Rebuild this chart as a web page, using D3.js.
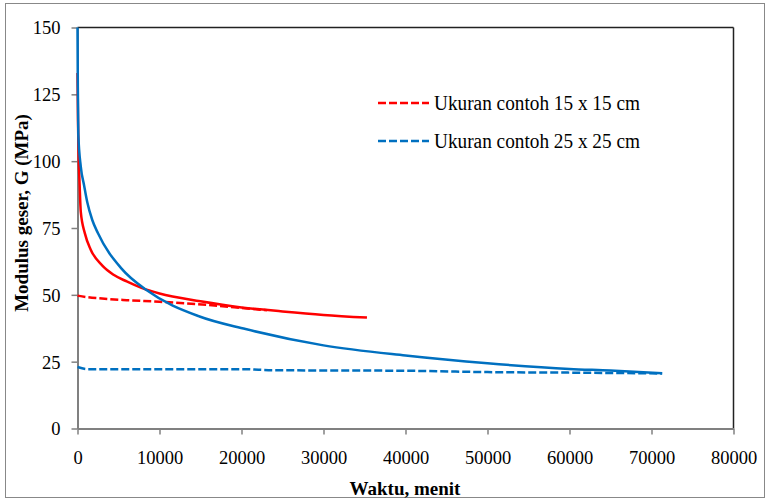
<!DOCTYPE html>
<html><head><meta charset="utf-8">
<script src="https://cdn.jsdelivr.net/npm/d3@7"></script>
<style>body{margin:0;background:#fff}svg{display:block}svg text{font-family:"Liberation Serif","Times New Roman",Times,"Nimbus Roman","DejaVu Serif",serif}</style>
</head><body><svg id="c" width="767" height="499"></svg>
<script>
const xTicks = [0,10000,20000,30000,40000,50000,60000,70000,80000];
const yTicks = [0,25,50,75,100,125,150];
const red15Solid = [[0,133],[60,115],[150,100],[240,92.8],[400,81],[900,73],[1600,67],[3000,61],[4400,57.5],[6000,55],[7800,52.6],[10000,50.5],[15000,47.6],[20000,45.3],[25000,43.8],[30000,42.5],[35300,41.5]];
const red15Dash = [[0,49.7],[1000,49.2],[3000,48.6],[6000,48.0],[10000,47.4],[16000,46.2],[20000,45.1],[23100,44.2]];
const blue25Solid = [[0,150],[40,128],[100,110],[400,98],[800,91],[1200,84.5],[1800,78],[2500,73],[5400,59.7],[8500,51.6],[14800,42],[20500,37.2],[30000,31.1],[40000,27.3],[50000,24.4],[60000,22.3],[65000,21.7],[71300,20.7]];
const blue25Dash = [[0,23],[1300,22.2],[10000,22.2],[20000,22.2],[24000,21.8],[40000,21.6],[50000,21.1],[60000,20.9],[71300,20.6]];
const legendLabels = ["Ukuran contoh 15 x 15 cm","Ukuran contoh 25 x 25 cm"];
const colors = ["#FF0000","#0070C0"];
const FONT = '"Liberation Serif","Times New Roman",Times,"Nimbus Roman","DejaVu Serif",serif';

const svg = d3.select("#c");
const L=77.5, R=733.5, T=27.5, B=428.5;
const x = d3.scaleLinear().domain([0,80000]).range([L,R]);
const y = d3.scaleLinear().domain([0,150]).range([B,T]);

svg.append("rect").attr("x",5.5).attr("y",3.5).attr("width",759).attr("height",494).attr("fill","#fff").attr("stroke","#888").attr("stroke-width",1);

svg.append("line").attr("x1",L).attr("x2",R).attr("y1",T).attr("y2",T).attr("stroke","#222").attr("stroke-width",1.5);
svg.append("line").attr("x1",R).attr("x2",R).attr("y1",T).attr("y2",B).attr("stroke","#222").attr("stroke-width",1.5);

const xAxis = svg.append("g").attr("transform",`translate(0,${B})`)
  .call(d3.axisBottom(x).tickValues(xTicks).tickSize(6).tickSizeOuter(0).tickFormat(d3.format("d")));
const yAxis = svg.append("g").attr("transform",`translate(${L},0)`)
  .call(d3.axisLeft(y).tickValues(yTicks).tickSize(6).tickSizeOuter(0));
[xAxis,yAxis].forEach(a=>{
  a.attr("font-family",FONT).attr("font-size",18.5);
  a.selectAll("path").attr("stroke","#808080").attr("stroke-width",2);
  a.selectAll("line").attr("stroke","#808080").attr("stroke-width",1.5);
  a.selectAll("text").attr("fill","#000");
});
xAxis.selectAll("text").attr("y",35).attr("dy",0);
yAxis.selectAll("text").attr("x",-17).attr("dy","0.35em");

const line = d3.line().x(d=>x(d[0])).y(d=>y(d[1])).curve(d3.curveMonotoneX);
const series = [
  {d:red15Solid,c:colors[0],dash:null},
  {d:red15Dash,c:colors[0],dash:"8,3"},
  {d:blue25Solid,c:colors[1],dash:null},
  {d:blue25Dash,c:colors[1],dash:"8,3"}
];
svg.append("g").selectAll("path").data(series).join("path")
  .attr("d",s=>line(s.d)).attr("fill","none").attr("stroke",s=>s.c)
  .attr("stroke-width",2.5).attr("stroke-dasharray",s=>s.dash);

const lg = svg.append("g").attr("font-family",FONT).attr("font-size",20);
legendLabels.forEach((t,i)=>{
  const yy = 103 + i*38;
  lg.append("line").attr("x1",378).attr("x2",429).attr("y1",yy).attr("y2",yy)
    .attr("stroke",colors[i]).attr("stroke-width",2.5).attr("stroke-dasharray","8,3");
  lg.append("text").attr("x",434).attr("y",yy+7).attr("textLength",206).attr("lengthAdjust","spacingAndGlyphs").text(t);
});

svg.append("text").attr("x",405).attr("y",495).attr("text-anchor","middle")
  .attr("font-family",FONT).attr("font-size",19).attr("font-weight","bold").text("Waktu, menit");
svg.append("text").attr("transform",`translate(28,213) rotate(-90)`).attr("text-anchor","middle")
  .attr("font-family",FONT).attr("font-size",19).attr("font-weight","bold").text("Modulus geser, G (MPa)");
</script></body></html>
